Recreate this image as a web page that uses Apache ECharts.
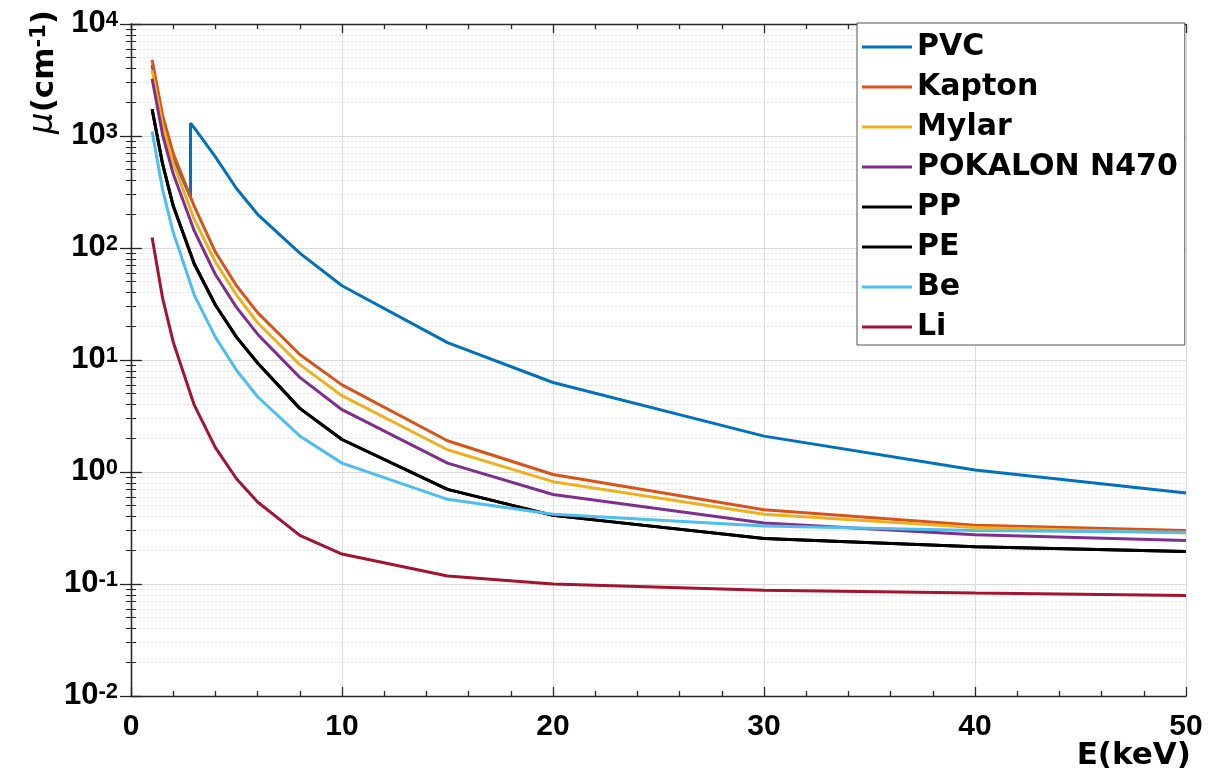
<!DOCTYPE html>
<html>
<head>
<meta charset="utf-8">
<script src="https://cdn.jsdelivr.net/npm/echarts@6/dist/echarts.min.js"></script>
<style>
  html, body { margin: 0; padding: 0; background: #fff; }
  #chart { width: 1208px; height: 776px; }
</style>
</head>
<body>
<div id="chart"></div>
<script>
// Photon energies (keV) of the tabulated attenuation data
const energy = [1, 1.5, 2, 3, 4, 5, 6, 8, 10, 15, 20, 30, 40, 50];
// PVC includes the Cl K-edge, so it carries two points at 2.82 keV
const pvcEnergy = [1, 1.5, 2, 2.82, 2.82, 3, 4, 5, 6, 8, 10, 15, 20, 30, 40, 50];

// Linear attenuation coefficients, cm^-1
const pvc     = [4300, 1400, 640, 285, 1300, 1180, 650, 340, 200, 90, 46, 14.3, 6.3, 2.09, 1.04, 0.65];
const kapton  = [4800, 1520, 700, 235, 92, 46, 26.5, 11.2, 6.0, 1.9, 0.95, 0.46, 0.335, 0.30];
const mylar   = [3850, 1240, 570, 180, 75, 38, 21.5, 9.1, 4.8, 1.58, 0.82, 0.42, 0.32, 0.285];
const pokalon = [3250, 1020, 460, 142, 58, 29.5, 17, 7.0, 3.6, 1.2, 0.63, 0.35, 0.275, 0.245];
const pp      = [1730, 560, 238, 72, 31, 16, 9.4, 3.7, 1.95, 0.70, 0.41, 0.255, 0.215, 0.195];
const pe      = [1730, 560, 238, 72, 31, 16, 9.4, 3.7, 1.95, 0.70, 0.41, 0.255, 0.215, 0.195];
const be      = [1100, 330, 138, 38, 16, 8.1, 4.7, 2.1, 1.2, 0.57, 0.42, 0.33, 0.30, 0.29];
const li      = [124, 35.5, 14.5, 3.95, 1.65, 0.87, 0.54, 0.272, 0.185, 0.118, 0.100, 0.088, 0.083, 0.079];

const seriesNames  = ['PVC', 'Kapton', 'Mylar', 'POKALON N470', 'PP', 'PE', 'Be', 'Li'];
const seriesColors = ['#0072BD', '#D95319', '#EDB120', '#7E2F8E', '#000000', '#000000', '#4DBEEE', '#A2142F'];
const seriesX      = [pvcEnergy, energy, energy, energy, energy, energy, energy, energy];
const seriesY      = [pvc, kapton, mylar, pokalon, pp, pe, be, li];

// Axis ranges and tick labels
const xTicks = [0, 10, 20, 30, 40, 50];
const yDecades = [-2, -1, 0, 1, 2, 3, 4];

const tickFont = 'Liberation Sans, Arial, sans-serif';
const labelFont = 'DejaVu Sans, sans-serif';
const axisColor = '#262626';

function pairs(xs, ys) {
  return xs.map((x, i) => [x, ys[i]]);
}

const series = seriesNames.map((name, k) => ({
  name: name,
  type: 'line',
  xAxisIndex: 0,
  yAxisIndex: 0,
  data: pairs(seriesX[k], seriesY[k]),
  symbol: 'none',
  smooth: false,
  clip: true,
  lineStyle: { color: seriesColors[k], width: 3 },
  itemStyle: { color: seriesColors[k] }
}));

const xMin = xTicks[0], xMax = xTicks[xTicks.length - 1];
const yMin = Math.pow(10, yDecades[0]), yMax = Math.pow(10, yDecades[yDecades.length - 1]);

function xAxisCommon(pos, withLabels) {
  return {
    type: 'value',
    position: pos,
    min: xMin,
    max: xMax,
    interval: 10,
    axisLine: { show: true, onZero: false, lineStyle: { color: axisColor, width: 1.3 } },
    axisTick: { show: true, inside: true, length: 9, lineStyle: { color: axisColor, width: 1.3 } },
    minorTick: { show: true, splitNumber: 5, length: 5, lineStyle: { color: axisColor, width: 1.3 } },
    axisLabel: withLabels ? {
      show: true, margin: 16, color: '#000',
      fontSize: 30, fontWeight: 'bold', fontFamily: tickFont
    } : { show: false },
    splitLine: withLabels ? { show: true, lineStyle: { color: '#dcdcdc', width: 1 } } : { show: false },
    minorSplitLine: { show: false }
  };
}

function yAxisCommon(pos, withLabels) {
  return {
    type: 'log',
    logBase: 10,
    position: pos,
    min: yMin,
    max: yMax,
    axisLine: { show: true, lineStyle: { color: axisColor, width: 1.3 } },
    axisTick: { show: true, inside: true, length: 11, lineStyle: { color: axisColor, width: 1.3 } },
    minorTick: { show: true, splitNumber: 9, length: 5, lineStyle: { color: axisColor, width: 1 } },
    axisLabel: withLabels ? {
      show: true,
      margin: 13,
      fontSize: 30,
      fontWeight: 'bold',
      fontFamily: tickFont,
      color: '#000',
      formatter: function (v) {
        const e = Math.round(Math.log10(v));
        return '{b|10}{s|' + e + '}';
      },
      rich: {
        b: {
          fontSize: 31, fontWeight: 'bold', fontFamily: tickFont, color: '#000',
          lineHeight: 30, padding: [20, 0, 0, 0], verticalAlign: 'bottom'
        },
        s: {
          fontSize: 22, fontWeight: 'bold', fontFamily: tickFont, color: '#000',
          lineHeight: 22, verticalAlign: 'top'
        }
      }
    } : { show: false },
    splitLine: withLabels ? { show: true, lineStyle: { color: '#d9d9d9', width: 1 } } : { show: false },
    minorSplitLine: withLabels ? { show: true, lineStyle: { color: '#e3e3e3', width: 1, type: [2, 2] } } : { show: false }
  };
}

const option = {
  backgroundColor: '#fff',
  animation: false,
  grid: { left: 131, right: 22, top: 24, bottom: 80, containLabel: false, outerBoundsMode: 'none' },
  xAxis: [xAxisCommon('bottom', true), xAxisCommon('top', false)],
  yAxis: [yAxisCommon('left', true), yAxisCommon('right', false)],
  legend: {
    orient: 'vertical',
    left: 857,
    top: 23,
    padding: [9, 7, 3, 5],
    icon: 'rect',
    itemWidth: 50,
    itemHeight: 3,
    itemGap: 10,
    borderColor: '#555',
    borderWidth: 1,
    backgroundColor: '#fff',
    data: seriesNames,
    textStyle: {
      fontFamily: labelFont, fontWeight: 'bold', fontSize: 30, color: '#000', lineHeight: 30
    }
  },
  graphic: [{
    // y-axis title, written bottom-to-top
    type: 'text',
    x: 60,
    y: 72,
    rotation: Math.PI / 2,
    style: {
      text: '{mu|μ}{t|(cm}{s|-1}{t|)}',
      align: 'center',
      verticalAlign: 'bottom',
      rich: {
        mu: { fontSize: 34, fontStyle: 'italic', fontFamily: labelFont, fill: '#000',
              lineHeight: 31, padding: [9, 0, 0, 0], verticalAlign: 'bottom' },
        t: { fontSize: 31, fontWeight: 'bold', fontFamily: labelFont, fill: '#000',
             lineHeight: 31, padding: [9, 0, 0, 0], verticalAlign: 'bottom' },
        s: { fontSize: 21, fontWeight: 'bold', fontFamily: labelFont, fill: '#000',
             lineHeight: 21, verticalAlign: 'top' }
      }
    }
  }, {
    // x-axis title under the right end of the axis
    type: 'text',
    x: 1191,
    y: 740,
    style: {
      text: 'E(keV)',
      align: 'right',
      verticalAlign: 'top',
      font: 'bold 31px DejaVu Sans, sans-serif',
      fill: '#000'
    }
  }],
  series: series
};

const chart = echarts.init(document.getElementById('chart'), null, { renderer: 'canvas' });
chart.setOption(option);
</script>
</body>
</html>
